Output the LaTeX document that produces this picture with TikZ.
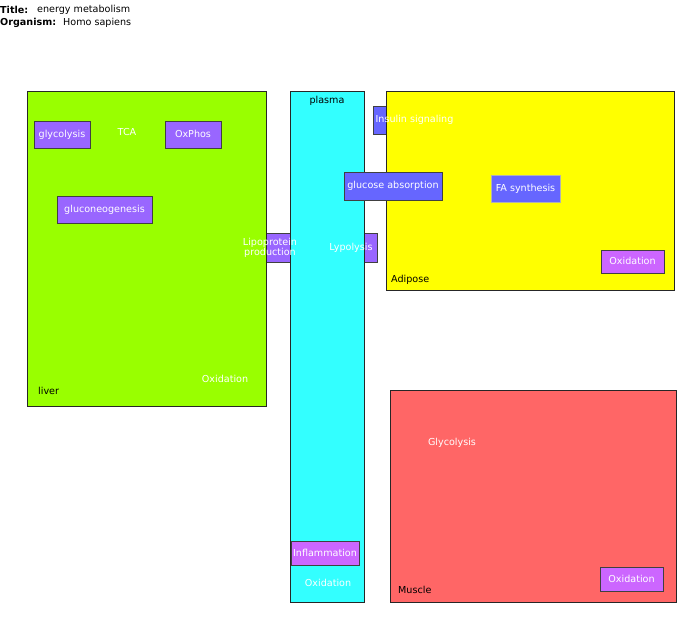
\documentclass[tikz,border=0pt]{standalone}
\usepackage{fontspec}
\setmainfont{DejaVu Sans}
\usepackage{xcolor}
\usepackage{tikz}
\usetikzlibrary{positioning}
\definecolor{liverc}{RGB}{153,255,0}
\definecolor{plasmac}{RGB}{51,255,255}
\definecolor{adipc}{RGB}{255,255,0}
\definecolor{musclec}{RGB}{255,102,102}
\definecolor{procc}{RGB}{153,102,255}
\definecolor{signc}{RGB}{102,102,255}
\definecolor{oxc}{RGB}{204,102,255}

\begin{document}
\begin{tikzpicture}[x=1pt, y=-1pt, font=\fontsize{9.6}{10}\selectfont,
    comp/.style={draw=black!85, line width=0.8pt, inner sep=0pt},
    proc/.style={draw=black!75, line width=0.8pt, fill=procc, text=white, inner sep=0pt},
    sig/.style={proc, fill=signc},
    ox/.style={proc, fill=oxc},
    lbl/.style={text=white, inner sep=0pt},
    cname/.style={text=black, inner sep=0pt, anchor=west}]
  \useasboundingbox (0,0) rectangle (690,616);

  % title block
  \node[anchor=west, inner sep=0pt, font=\fontsize{9.6}{10}\selectfont\bfseries] (tkey) at (0,10) {Title:};
  \node[anchor=west, inner sep=0pt] (tval) at (37,10) {energy metabolism};
  \node[anchor=west, inner sep=0pt, font=\fontsize{9.6}{10}\selectfont\bfseries] (okey) at (0,23) {Organism:};
  \node[anchor=west, inner sep=0pt] (oval) at (63,23) {Homo sapiens};

  % boxes that sit behind the compartments
  \node[proc, minimum width=60pt, minimum height=29pt] (lipobox) at (270,247.5) {};
  \node[proc, minimum width=52pt, minimum height=29pt] (lypobox) at (351,247.5) {};
  \node[sig, minimum width=83pt, minimum height=28pt] (insbox) at (414.5,120) {};

  % compartments
  \node[comp, fill=liverc, minimum width=239pt, minimum height=315pt] (liver) at (146.5,248.5) {};
  \node[comp, fill=plasmac, minimum width=74pt, minimum height=511pt] (plasma) at (327,346.5) {};
  \node[comp, fill=adipc, minimum width=288pt, minimum height=199pt] (adipose) at (530,190.5) {};
  \node[comp, fill=musclec, minimum width=286pt, minimum height=212pt] (muscle) at (533,496) {};

  \node[cname] (livername) at (38,391) {liver};
  \node[inner sep=0pt] (plasmaname) at (327,101) {plasma};
  \node[cname] (adipname) at (391,280) {Adipose};
  \node[cname] (musclename) at (398,590) {Muscle};

  % liver
  \node[proc, minimum width=56pt, minimum height=27pt] (glyco) at (62,134.5) {glycolysis};
  \node[lbl] (tca) at (127,132) {TCA};
  \node[proc, minimum width=56pt, minimum height=27pt] (oxphos) at (193,134.5) {\raisebox{2pt}{OxPhos}};
  \node[proc, minimum width=95pt, minimum height=27pt] (gluconeo) at (104.5,209.5) {gluconeogenesis};
  \node[lbl] (liverox) at (225,379) {Oxidation};

  % plasma and adipose
  \node[sig, minimum width=98pt, minimum height=28pt] (glucabs) at (393,186) {glucose absorption};
  \node[sig, draw=gray!60, minimum width=69pt, minimum height=27pt] (fasyn) at (525.5,188.5) {FA synthesis};
  \node[ox, minimum width=63pt, minimum height=23pt] (adipox) at (632.5,261.5) {\raisebox{1pt}{Oxidation}};
  \node[ox, minimum width=68pt, minimum height=24pt] (inflam) at (325,553) {\raisebox{1pt}{Inflammation}};
  \node[lbl] (plasmaox) at (328,583) {Oxidation};

  % muscle
  \node[lbl] (muscglyco) at (452,443) {Glycolysis};
  \node[ox, minimum width=63pt, minimum height=24pt] (muscox) at (631.5,579) {\raisebox{1pt}{Oxidation}};

  % texts of the hidden boxes
  \node[lbl, align=center] (lipo) at (lipobox) {Lipoprotein\\production};
  \node[lbl] (lypo) at (lypobox) {Lypolysis};
  \node[lbl] (ins) at (insbox) {Insulin signaling};
\end{tikzpicture}
\end{document}
